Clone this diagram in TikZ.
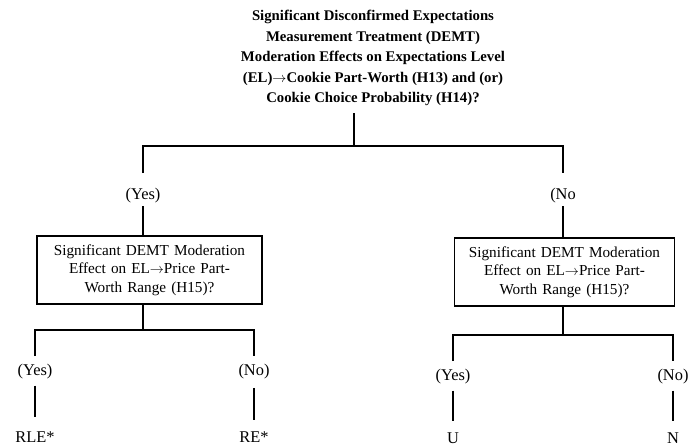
\documentclass[tikz,border=0pt]{standalone}
\usepackage{fontspec}
\setmainfont{Liberation Serif}
\usetikzlibrary{positioning, calc}
\tikzset{
  dt title/.style={
    align=center, inner sep=6pt,
    font=\fontsize{12.6}{17.5}\selectfont\bfseries
  },
  dt box/.style={
    rectangle, draw=black, line width=0.9pt,
    text width=6.4cm, minimum height=2.04cm,
    align=center, inner sep=3pt,
    font=\fontsize{13}{15.8}\selectfont
  },
  dt label/.style={
    font=\fontsize{14}{16}\selectfont, inner sep=2pt
  },
  dt line/.style={
    draw=black, line width=0.9pt
  }
}

\begin{document}
\begin{tikzpicture}[x=0.03cm, y=-0.03cm]
\useasboundingbox (0,0) rectangle (692,448);

% ====== ROOT QUESTION ======
\node[dt title] (root) at (373,58)
  {Significant Disconfirmed Expectations\\
   Measurement Treatment (DEMT)\\
   Moderation Effects on Expectations Level\\
   (EL)$\to$Cookie Part-Worth (H13) and (or)\\
   Cookie Choice Probability (H14)?};
\coordinate (top) at (354,146);
\draw[dt line] (root.south -| top) -- (top);

% -- first split --
\node[dt label] (yes1) at (143,196) {(Yes)};
\node[dt label] (no1) at (563,196) {(No};
\draw[dt line, shorten <=11pt, shorten >=11pt] (yes1) |- (top) -| (no1);

% ====== LEFT BRANCH ======
\node[dt box, minimum width=6.75cm] (boxL) at (149.5,270)
  {Significant DEMT Moderation\\Effect on EL$\to$Price Part-\\Worth Range (H15)?};
\draw[dt line] (yes1) -- (yes1 |- boxL.north);
\coordinate (jL) at (143,330);
\draw[dt line] (boxL.south -| jL) -- (jL);

\node[dt label] (yesL) at (35,372) {(Yes)};
\node[dt label] (noL) at (254,372) {(No)};
\draw[dt line, shorten <=5pt, shorten >=5pt] (yesL) |- (jL) -| (noL);

\node[dt label] (rle) at (35,437) {RLE*};
\node[dt label] (re) at (254,437) {RE*};
\draw[dt line, shorten <=3pt, shorten >=10pt] (yesL) -- (rle);
\draw[dt line, shorten <=5pt, shorten >=8pt] (noL) -- (re);

% ====== RIGHT BRANCH ======
\node[dt box, minimum width=6.57cm] (boxR) at (564.5,272)
  {Significant DEMT Moderation\\Effect on EL$\to$Price Part-\\Worth Range (H15)?};
\draw[dt line] (no1) -- (no1 |- boxR.north);
\coordinate (jR) at (563,335);
\draw[dt line] (boxR.south -| jR) -- (jR);

\node[dt label] (yesR) at (453,377) {(Yes)};
\node[dt label] (noR) at (673,377) {(No)};
\draw[dt line, shorten <=5pt, shorten >=5pt] (yesR) |- (jR) -| (noR);

\node[dt label] (u) at (453,438) {U};
\node[dt label] (n) at (673,438) {N};
\draw[dt line, shorten <=3pt, shorten >=8pt] (yesR) -- (u);
\draw[dt line, shorten <=3pt, shorten >=8pt] (noR) -- (n);

\end{tikzpicture}
\end{document}
